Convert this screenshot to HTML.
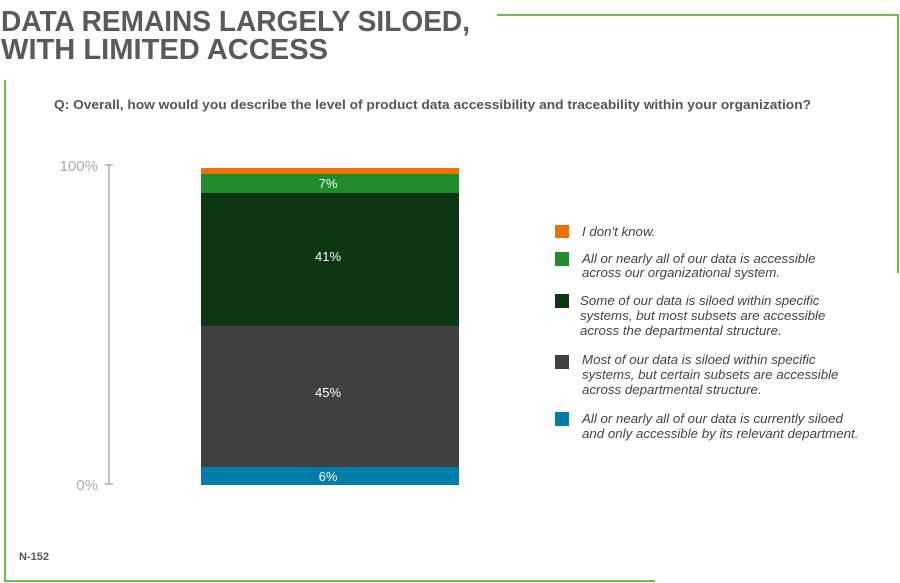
<!DOCTYPE html>
<html><head><meta charset="utf-8"><style>body{margin:0;background:#fff}svg{display:block}</style></head><body>
<svg width="900" height="583" xmlns="http://www.w3.org/2000/svg" font-family="Liberation Sans, sans-serif">
<rect width="900" height="583" fill="#fff"/>
<g stroke="#6abf4b" stroke-width="2" fill="none">
<polyline points="497,15 898,15 898,273"/>
<polyline points="5,80 5,581 655,581"/>
</g>
<text x="1" y="31" font-size="29" font-weight="bold" fill="#5a5a5a" textLength="469" lengthAdjust="spacingAndGlyphs">DATA REMAINS LARGELY SILOED,</text>
<text x="1" y="59" font-size="29" font-weight="bold" fill="#5a5a5a" textLength="327" lengthAdjust="spacingAndGlyphs">WITH LIMITED ACCESS</text>
<text x="54" y="109" font-size="12.5" font-weight="bold" fill="#555" textLength="757" lengthAdjust="spacingAndGlyphs">Q: Overall, how would you describe the level of product data accessibility and traceability within your organization?</text>
<g stroke="#999" stroke-width="1.2">
<line x1="109" y1="165" x2="109" y2="484"/><line x1="105" y1="165" x2="113" y2="165"/><line x1="105" y1="484" x2="113" y2="484"/>
</g>
<text x="98" y="171" font-size="15" fill="#aaa" text-anchor="end">100%</text>
<text x="98" y="490" font-size="15" fill="#aaa" text-anchor="end">0%</text>
<rect x="201" y="168" width="258" height="6" fill="#ee7203"/>
<rect x="201" y="174" width="258" height="19" fill="#218b2e"/>
<rect x="201" y="193" width="258" height="133" fill="#0d3612"/>
<rect x="201" y="326" width="258" height="141" fill="#404040"/>
<rect x="201" y="467" width="258" height="18" fill="#007dab"/>
<g fill="#fff" font-size="13" text-anchor="middle">
<text x="328" y="188">7%</text><text x="328" y="261">41%</text><text x="328" y="397">45%</text><text x="328" y="481">6%</text>
</g>
<rect x="555" y="225" width="14" height="13" fill="#ee7203"/>
<rect x="555" y="252" width="14" height="14" fill="#218b2e"/>
<rect x="555" y="294" width="14" height="14" fill="#0d3612"/>
<rect x="555" y="355" width="14" height="14" fill="#404040"/>
<rect x="555" y="412" width="14" height="14" fill="#007dab"/>
<g fill="#444" font-size="13.3" font-style="italic">
<text x="582" y="236">I don't know.</text>
<text x="582" y="263">All or nearly all of our data is accessible</text>
<text x="582" y="277">across our organizational system.</text>
<text x="580" y="305">Some of our data is siloed within specific</text>
<text x="580" y="320">systems, but most subsets are accessible</text>
<text x="580" y="335">across the departmental structure.</text>
<text x="582" y="364">Most of our data is siloed within specific</text>
<text x="582" y="379">systems, but certain subsets are accessible</text>
<text x="582" y="394">across departmental structure.</text>
<text x="582" y="423">All or nearly all of our data is currently siloed</text>
<text x="582" y="438">and only accessible by its relevant department.</text>
</g>
<text x="19" y="560" font-size="11" font-weight="bold" fill="#555">N-152</text>
</svg>
</body></html>
